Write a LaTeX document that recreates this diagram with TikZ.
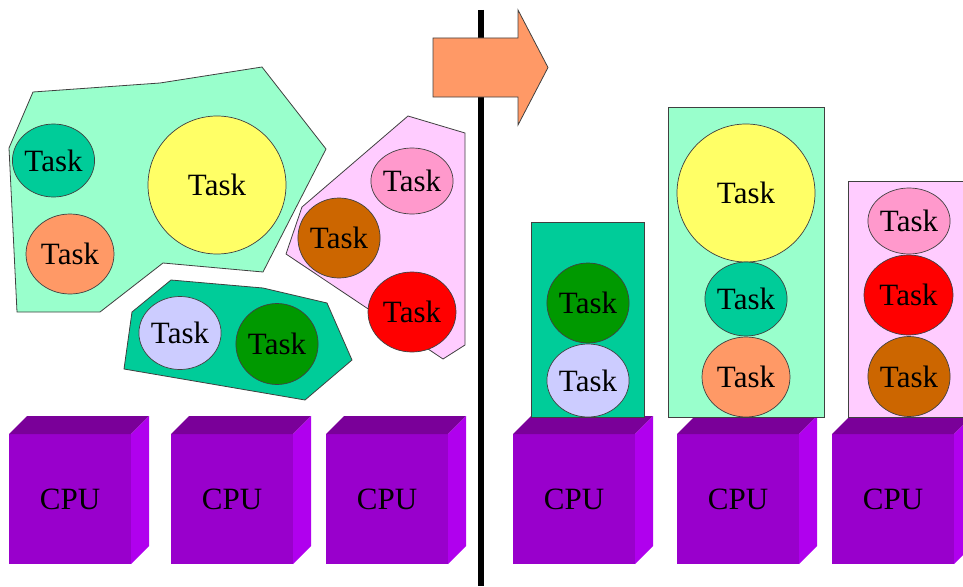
\documentclass[tikz,border=0pt]{standalone}
\usepackage{fontspec}
\newfontfamily\timesfont{LiberationSerif}[Extension=.ttf, UprightFont=*-Regular]
\usetikzlibrary{shapes.geometric}
\definecolor{mint}{HTML}{99FFCC}
\definecolor{teal2}{HTML}{00CC99}
\definecolor{pinkbg}{HTML}{FFCCFF}
\definecolor{orangec}{HTML}{FF9966}
\definecolor{yellowc}{HTML}{FFFF66}
\definecolor{lavc}{HTML}{CCCCFF}
\definecolor{greenc}{HTML}{009900}
\definecolor{pinkc}{HTML}{FF99CC}
\definecolor{brownc}{HTML}{CC6600}
\definecolor{redc}{HTML}{FF0000}
\definecolor{cpufrontc}{HTML}{9900CC}
\definecolor{cputopc}{HTML}{7A0099}
\definecolor{cpurightc}{HTML}{B000EE}
\definecolor{edgec}{HTML}{404040}
\begin{document}
\begin{tikzpicture}[x=1pt,y=-1pt,
  task/.style={ellipse, draw=edgec, line width=0.7pt, inner sep=0pt, outer sep=0pt,
    font=\timesfont\fontsize{31}{36}\selectfont},
  group/.style={draw=edgec, line width=0.8pt},
  cpufront/.style={rectangle, fill=cpufrontc, minimum width=122pt, minimum height=130pt,
    inner sep=0pt, outer sep=0pt, font=\timesfont\fontsize{31}{36}\selectfont},
  cputop/.style={fill=cputopc},
  cpuright/.style={fill=cpurightc}]
\useasboundingbox (0,0) rectangle (963,586);
\clip (0,0) rectangle (963,586);

% CPUs
\foreach \x/\n in {9/a,171/b,326/c,513/d,677/e,832/f}{
  \node[cpufront] (cpu\n) at (\x+61,499) {CPU};
  \fill[cputop] (cpu\n.north west) -- ++(18,-18) -- ++(122,0) -- (cpu\n.north east) -- cycle;
  \fill[cpuright] (cpu\n.south east) -- (cpu\n.north east) -- ++(18,-18) -- ++(0,130) -- cycle;
}

% left groups
\draw[group, fill=mint] (33,92) -- (160,83) -- (262,67) -- (326,149) -- (263,272) -- (163,263)
  -- (100,312) -- (17,312) -- (9,148) -- cycle;
\draw[group, fill=teal2] (171,280) -- (263,288) -- (327,303) -- (352,360) -- (305,400)
  -- (124,369) -- (132,312) -- cycle;
\draw[group, fill=pinkbg] (408,116) -- (465,133) -- (465,345) -- (443,359) -- (286,254)
  -- (302,207) -- cycle;

\node[task, fill=teal2, minimum width=73pt, minimum height=73pt] (lt1) at (53.5,160.5) {Task};
\node[task, fill=orangec, minimum width=88pt, minimum height=80pt] (lt2) at (70,254) {Task};
\node[task, fill=yellowc, minimum width=138pt, minimum height=138pt] (lt3) at (217,185) {Task};
\node[task, fill=lavc, minimum width=81pt, minimum height=73pt] (lt4) at (180,333) {Task};
\node[task, fill=greenc, minimum width=81pt, minimum height=81pt] (lt5) at (277,344) {Task};
\node[task, fill=pinkc, minimum width=72pt, minimum height=66pt] (lt6) at (412,181) {Task};
\node[task, fill=brownc, minimum width=72pt, minimum height=80pt] (lt7) at (339,238) {Task};
\node[task, fill=redc, minimum width=88pt, minimum height=80pt] (lt8) at (412,312) {Task};

% right groups
\draw[group, fill=teal2] (531,222) rectangle (644,417);
\draw[group, fill=mint] (668,107) rectangle (824,417);
\draw[group, fill=pinkbg] (848,181) rectangle (975,417);

\node[task, fill=greenc, minimum width=80pt, minimum height=80pt] (rt1) at (588,303) {Task};
\node[task, fill=lavc, minimum width=80pt, minimum height=73pt] (rt2) at (588,380.5) {Task};
\node[task, fill=yellowc, minimum width=138pt, minimum height=138pt] (rt3) at (746,193) {Task};
\node[task, fill=teal2, minimum width=74pt, minimum height=74pt] (rt4) at (746,299) {Task};
\node[task, fill=orangec, minimum width=88pt, minimum height=80pt] (rt5) at (746,377) {Task};
\node[task, fill=pinkc, minimum width=74pt, minimum height=66pt] (rt6) at (909,221) {Task};
\node[task, fill=redc, minimum width=89pt, minimum height=80pt] (rt7) at (908.5,295) {Task};
\node[task, fill=brownc, minimum width=74pt, minimum height=80pt] (rt8) at (909,376.5) {Task};

% divider and arrow
\draw[line width=6pt] (481,10) -- (481,586);
\draw[fill=orangec, draw=edgec, line width=0.8pt] (433,38) -- (518,38) -- (518,10) -- (548,67.5)
  -- (518,125) -- (518,97) -- (433,97) -- cycle;
\end{tikzpicture}
\end{document}
